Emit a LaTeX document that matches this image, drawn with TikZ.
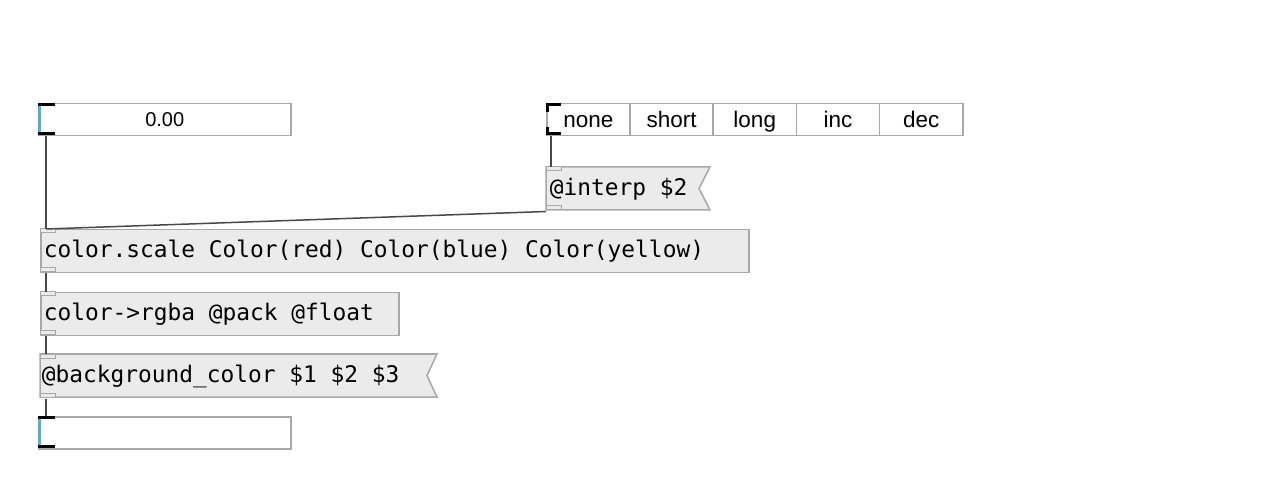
\documentclass[tikz,border=0pt]{standalone}
\usepackage{fontspec}
\newfontfamily\monofont{DejaVu Sans Mono}
\newfontfamily\guifont{Liberation Sans}
\usetikzlibrary{positioning}
\definecolor{boxfill}{HTML}{EBEBEB}
\definecolor{boxline}{HTML}{A8A8A8}
\definecolor{wirecol}{HTML}{484848}
\definecolor{atomblue}{HTML}{56AECF}
\tikzset{
    obj/.style={
           draw=boxline, line width=1.5pt,
           fill=boxfill,
           anchor=north west,
           minimum height=43pt,
           inner xsep=3pt, inner ysep=0pt,
           align=left,
           text height=17pt, text depth=5pt,
           font=\monofont\fontsize{22.85}{26}\selectfont,
           execute at begin node={\spaceskip=0.602em\relax},
           },
    msg/.style={obj, draw=none, fill=none},
    flag/.style={draw=boxline, line width=1.5pt, fill=boxfill},
    port/.style={draw=boxline, line width=1pt, fill=boxfill},
    atom/.style={
           draw=boxline, line width=1.5pt,
           fill=white,
           anchor=north west,
           minimum width=252pt, minimum height=32pt,
           inner sep=0pt,
           text height=17pt, text depth=4pt,
           font=\guifont\fontsize{20}{24}\selectfont,
           },
    cell/.style={atom, minimum width=83.2pt, text height=19pt, text depth=3pt,
           font=\guifont\fontsize{22.5}{26}\selectfont},
    wire/.style={draw=wirecol, line width=1.5pt},
}
\begin{document}
\begin{tikzpicture}[x=1pt,y=-1pt]
\useasboundingbox[fill=white] (0,0) rectangle (1288,494);
% number box on top
\node[atom] (numtop) at (38,103) {0.00};
\fill[atomblue] (38,103) rectangle (41,135);
\fill[black] (38,103) rectangle (55,106);
\fill[black] (38,132) rectangle (55,135);
% radio
\foreach \lab [count=\i from 0] in {none,short,long,inc,dec}
    \node[cell] (r\i) at (546+83.2*\i,103) {\lab};
\fill[black] (546,103) rectangle (561,106);
\fill[black] (546,103) rectangle (549,112);
\fill[black] (546,132) rectangle (561,135);
\fill[black] (546,127) rectangle (549,135);
% messages and objects
\filldraw[flag] (546,167) -- (710,167) -- (699,188.5) -- (710,210) -- (546,210) -- cycle;
\node[msg, text width=158pt] (interp) at (546,167) {@interp \$2};
\filldraw[port] (546,167) rectangle ++(15,4);
\filldraw[port] (546,206) rectangle ++(15,4);
\node[obj, text width=702pt] (scale) at (40,229) {color.scale Color(red) Color(blue) Color(yellow)};
\filldraw[port] (40,229) rectangle ++(15,4);
\filldraw[port] (40,268) rectangle ++(15,4);
\node[obj, text width=352pt] (rgba) at (40,292) {color->rgba @pack @float};
\filldraw[port] (40,292) rectangle ++(15,4);
\filldraw[port] (40,331) rectangle ++(15,4);
\filldraw[flag] (40,354) -- (437,354) -- (427,375.5) -- (437,397) -- (40,397) -- cycle;
\node[msg, text width=391pt, inner xsep=1pt] (bgcolor) at (40,354) {@background\char"5F color \$1 \$2 \$3};
\filldraw[port] (40,354) rectangle ++(15,4);
\filldraw[port] (40,393) rectangle ++(15,4);
% number box at the bottom
\node[atom] (numbot) at (38,416) {};
\fill[atomblue] (38,416) rectangle (41,448);
\fill[black] (38,416) rectangle (55,419);
\fill[black] (38,445) rectangle (55,448);
% connections
\coordinate (numtop-out) at ([xshift=8pt]numtop.south west);
\coordinate (radio-out) at ([xshift=5pt]r0.south west);
\coordinate (interp-in) at ([xshift=5pt]interp.north west);
\coordinate (interp-out) at (interp.south west);
\coordinate (scale-in) at ([xshift=6pt]scale.north west);
\coordinate (scale-out) at ([xshift=6pt]scale.south west);
\coordinate (rgba-in) at ([xshift=6pt]rgba.north west);
\coordinate (rgba-out) at ([xshift=6pt]rgba.south west);
\coordinate (bg-in) at ([xshift=6pt]bgcolor.north west);
\coordinate (bg-out) at ([xshift=6pt]bgcolor.south west);
\coordinate (numbot-in) at ([xshift=8pt]numbot.north west);
\draw[wire] (numtop-out) -- (scale-in);
\draw[wire] (radio-out) -- (interp-in);
\draw[wire] (interp-out) -- (scale-in);
\draw[wire] (scale-out) -- (rgba-in);
\draw[wire] (rgba-out) -- (bg-in);
\draw[wire] (bg-out) -- (numbot-in);
\end{tikzpicture}
\end{document}
